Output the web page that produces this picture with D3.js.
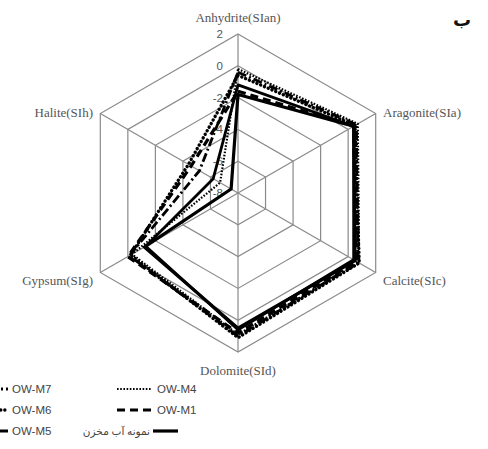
<!DOCTYPE html>
<html><head><meta charset="utf-8">
<script src="https://cdn.jsdelivr.net/npm/d3@7"></script>
<style>html,body{margin:0;padding:0;background:#fff;overflow:hidden}</style>
</head><body>
<svg id="chart" width="488" height="449"></svg>
<script>
const axes = ["Anhydrite(SIan)","Aragonite(SIa)","Calcite(SIc)","Dolomite(SId)","Gypsum(SIg)","Halite(SIh)"];
const ticks = [2,0,-2,-4,-6,-8];
const seriesNames = ["OW-M7","OW-M6","OW-M5","OW-M4","OW-M1","نمونه آب مخزن"];
const owM7 = [-0.4, 0.6, 0.7, 1.0, -0.1, -5.2];
const owM6 = [-0.6, 0.5, 0.8, 1.1, -0.2, -4.4];
const owM5 = [-1.2, 0.4, 0.4, 0.6, -1.3, -6.2];
const owM4 = [-0.2, 0.7, 0.8, 0.9, -0.3, -6.7];
const owM1 = [-1.6, 0.4, 0.6, 0.8, 0.0, -4.6];
const reservoir = [-1.8, 0.4, 0.5, 0.5, -1.2, -7.5];
const seriesValues = [owM7, owM6, owM5, owM4, owM1, reservoir];

const styles = [
  {dash:"9,3,2,3", w:2.8, cap:"butt"},
  {dash:"0.1,4", w:3.4, cap:"round"},
  {dash:null, w:2.8, cap:"butt"},
  {dash:"1.6,1.6", w:2.2, cap:"butt"},
  {dash:"8,5", w:3.2, cap:"butt"},
  {dash:null, w:3.2, cap:"butt"}
];

const svg = d3.select("#chart");
const cx = 238, cy = 193, R = 159;
const r = d3.scaleLinear().domain([-8, 2]).range([0, R]);
const ang = d3.scalePoint().domain(axes).range([0, 2*Math.PI*5/6]);
const g = svg.append("g").attr("transform", `translate(${cx},${cy})`);
const pt = (a, rad) => [rad*Math.sin(ang(a)), -rad*Math.cos(ang(a))];

const ring = d3.lineRadial().angle(d => ang(d.a)).radius(d => r(d.v)).curve(d3.curveLinearClosed);
ticks.forEach(t => {
  if (t === -8) return;
  g.append("path").attr("d", ring(axes.map(a => ({a, v:t}))))
    .attr("fill","none").attr("stroke","#8a8a8a").attr("stroke-width",1.2);
});
axes.forEach(a => {
  const p = pt(a, R);
  g.append("line").attr("x1",0).attr("y1",0).attr("x2",p[0]).attr("y2",p[1])
    .attr("stroke","#8a8a8a").attr("stroke-width",1.2);
});

ticks.forEach(t => {
  g.append("text").attr("x",-15).attr("y",-r(t)).attr("dy","0.35em")
    .attr("text-anchor","end").attr("font-family","Liberation Sans, Arial, sans-serif")
    .attr("font-size",11.5).attr("fill","#555").text(t);
});

const line = d3.lineRadial().angle((d,i) => ang(axes[i])).radius(d => r(d)).curve(d3.curveLinearClosed);
seriesValues.forEach((vals, i) => {
  const s = styles[i];
  g.append("path").attr("d", line(vals)).attr("fill","none").attr("stroke","#000")
    .attr("stroke-width", s.w).attr("stroke-dasharray", s.dash).attr("stroke-linecap", s.cap)
    .attr("stroke-linejoin","round");
});

const lab = [
  {x:0, y:-176, anchor:"middle"},
  {x:145, y:-81, anchor:"start"},
  {x:145, y:87, anchor:"start"},
  {x:0, y:177, anchor:"middle"},
  {x:-145, y:87, anchor:"end"},
  {x:-145, y:-81, anchor:"end"}
];
axes.forEach((a, i) => {
  g.append("text").attr("x", lab[i].x).attr("y", lab[i].y).attr("dy","0.35em")
    .attr("text-anchor", lab[i].anchor).attr("font-family","Liberation Serif, Times New Roman, serif")
    .attr("font-size",13).attr("fill","#555").text(a);
});

svg.append("text").attr("x",462).attr("y",26).attr("text-anchor","middle")
  .attr("font-family","Noto Sans, DejaVu Sans, sans-serif").attr("font-size",18).attr("font-weight","bold")
  .attr("fill","#111").text("ب");

const legend = svg.append("g");
const legendPos = [
  {lx1:-28, lx2:8, tx:12, y:389, anchor:"start"},
  {lx1:-28, lx2:8, tx:12, y:410, anchor:"start"},
  {lx1:-28, lx2:8, tx:12, y:431, anchor:"start"},
  {lx1:117, lx2:152, tx:157, y:389, anchor:"start"},
  {lx1:117, lx2:152, tx:157, y:410, anchor:"start"},
  {lx1:153, lx2:178, tx:150, y:431, anchor:"end"}
];
seriesNames.forEach((n, i) => {
  const p = legendPos[i], s = styles[i];
  legend.append("line").attr("x1",p.lx1).attr("x2",p.lx2).attr("y1",p.y).attr("y2",p.y)
    .attr("stroke","#000").attr("stroke-width",s.w).attr("stroke-dasharray",s.dash).attr("stroke-linecap",s.cap);
  legend.append("text").attr("x",p.tx).attr("y",p.y).attr("dy","0.35em").attr("text-anchor",p.anchor)
    .attr("font-family", i===5 ? "Noto Sans, DejaVu Sans, sans-serif" : "Liberation Sans, Arial, sans-serif")
    .attr("font-size", i===5 ? 10.5 : 11.5).attr("fill","#444").text(n);
});
</script>
</body></html>
